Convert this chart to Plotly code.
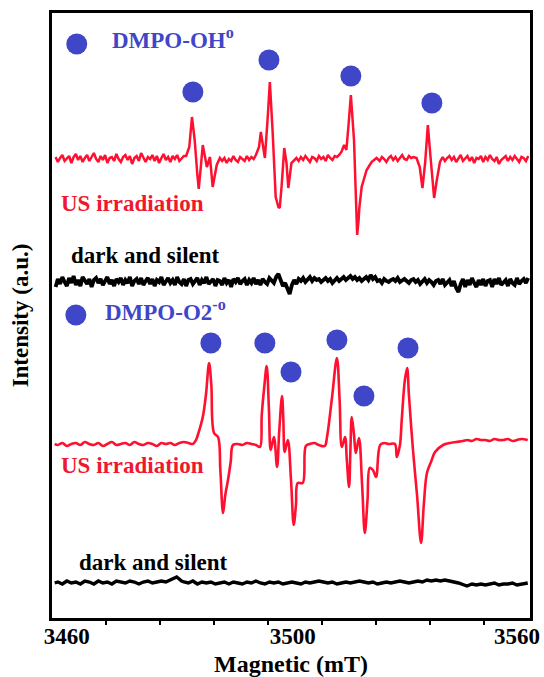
import plotly.graph_objects as go

# ---------------- EPR spectra (field in mT, signal in a.u. relative to each baseline) ----------------
# DMPO-OH adduct, US irradiation
B_OH = [
    3457.5, 3458.0, 3458.5, 3459.0, 3459.5, 3460.0, 3460.5, 3461.0, 3461.5, 3462.0,
    3462.5, 3463.0, 3463.5, 3464.0, 3464.5, 3465.0, 3465.5, 3466.0, 3466.5, 3467.0,
    3467.5, 3468.0, 3468.5, 3469.0, 3469.5, 3470.0, 3470.5, 3471.0, 3471.5, 3472.0,
    3472.5, 3473.0, 3473.5, 3474.0, 3474.5, 3475.0, 3475.5, 3476.0, 3476.5, 3477.0,
    3477.5, 3478.0, 3478.5, 3479.0, 3479.5, 3480.0, 3480.5, 3481.0, 3481.5, 3482.0,
    3482.5, 3483.0, 3483.5, 3484.0, 3484.5, 3485.0, 3485.5, 3486.0,
    3486.5, 3487.2, 3487.8, 3488.4, 3489.0, 3489.3, 3489.7, 3490.2, 3490.7, 3491.1,
    3491.8, 3492.4, 3493.3, 3494.0,
    3494.5, 3495.0, 3495.5, 3496.0, 3496.5, 3497.0, 3497.5, 3498.0, 3498.5, 3499.0,
    3499.5, 3500.0, 3500.5, 3501.0, 3501.5, 3502.0,
    3502.7, 3503.1, 3503.6, 3504.0, 3504.6, 3505.1, 3505.7, 3506.4, 3507.0, 3507.3,
    3507.7, 3508.3, 3508.8, 3509.2, 3509.9, 3511.0,
    3511.5, 3512.0, 3512.5, 3513.0, 3513.5, 3514.0, 3514.5, 3515.0, 3515.5, 3516.0,
    3516.5, 3517.0, 3517.5, 3518.0, 3518.5, 3519.0, 3519.5, 3520.0, 3520.5,
    3521.0, 3521.6, 3522.1, 3522.6, 3523.1, 3523.8, 3524.2, 3524.5, 3524.8, 3525.0,
    3525.5, 3526.6, 3527.7, 3528.8,
    3529.5, 3530.0, 3530.5, 3531.0, 3531.5, 3532.0, 3532.5, 3533.0, 3533.5, 3534.0,
    3534.5, 3535.0, 3535.5, 3536.0, 3536.5, 3537.0,
    3537.7, 3538.4, 3539.0, 3539.6, 3540.2, 3540.8, 3541.6, 3542.2, 3542.9,
    3543.5, 3544.0, 3544.5, 3545.0, 3545.5, 3546.0, 3546.5, 3547.0, 3547.5, 3548.0,
    3548.5, 3549.0, 3549.5, 3550.0, 3550.5, 3551.0, 3551.5, 3552.0, 3552.5, 3553.0,
    3553.5, 3554.0, 3554.5, 3555.0, 3555.5, 3556.0, 3556.5, 3557.0, 3557.5, 3558.0,
    3558.5, 3559.0, 3559.5, 3560.0, 3560.5, 3561.0, 3561.5, 3562.0, 3562.5]
S_OH = [
    2, -3, 1, 4, -2, 0, 3, -4, 2, 5,
    -1, 3, -3, 1, 4, -2, 2, 6, 0, -3,
    3, -1, 4, -4, 1, 2, -2, 5, 0, -3,
    2, 4, -1, 3, -5, 1, 3, -2, 6, 1,
    -3, 2, 0, 4, -2, 3, -4, 1, 5, -1,
    2, -3, 3, 0, 4, -2, 1, 3,
    3, 12, 42, 19, -16, -30, -11, 14, 2, -8,
    2, -28, -6, 1,
    -2, 1, -4, 0, -2, 3, -1, -3, 2, 0,
    -2, 3, -1, 2, 0, 4,
    12, 27, 10, 1, 40, 77, 29, -38, -48, -49,
    -28, 11, -4, -29, -4, 1,
    -2, 2, -1, 3, 0, -3, 2, 1, -2, 3,
    0, 2, -2, 4, 1, -1, 3, 2, 4,
    7, 14, 9, 35, 64, 19, -40, -76, -62, -48,
    -28, -11, -3, 1,
    -2, 2, 0, -3, 1, 3, -1, 2, -2, 1,
    4, 0, -1, 3, 1, 2,
    1, -8, -29, -4, 34, 2, -39, -21, -3,
    2, -2, 1, 3, -1, 2, -3, 0, 4, -2,
    1, 3, -2, 2, -4, 1, 0, 3, -3, 2,
    -1, 4, 0, -2, 2, -5, -1, 1, 3, -2,
    2, -1, 3, 0, -3, 2, 1, -2, 3]

# Dark and silent control for DMPO-OH (0.5 mT sweep points)
B_DARK1 = [
    3457.5, 3458.0, 3458.5, 3459.0, 3459.5, 3460.0, 3460.5, 3461.0, 3461.5, 3462.0,
    3462.5, 3463.0, 3463.5, 3464.0, 3464.5, 3465.0, 3465.5, 3466.0, 3466.5, 3467.0,
    3467.5, 3468.0, 3468.5, 3469.0, 3469.5, 3470.0, 3470.5, 3471.0, 3471.5, 3472.0,
    3472.5, 3473.0, 3473.5, 3474.0, 3474.5, 3475.0, 3475.5, 3476.0, 3476.5, 3477.0,
    3477.5, 3478.0, 3478.5, 3479.0, 3479.5, 3480.0, 3480.5, 3481.0, 3481.5, 3482.0,
    3482.5, 3483.0, 3483.5, 3484.0, 3484.5, 3485.0, 3485.5, 3486.0, 3486.5, 3487.0,
    3487.5, 3488.0, 3488.5, 3489.0, 3489.5, 3490.0, 3490.5, 3491.0, 3491.5, 3492.0,
    3492.5, 3493.0, 3493.5, 3494.0, 3494.5, 3495.0, 3495.5, 3496.0, 3496.5, 3497.0,
    3497.5, 3498.0, 3498.5, 3499.0, 3499.5, 3500.0, 3500.5, 3501.0, 3501.5, 3502.0,
    3502.5, 3503.0, 3503.5, 3504.0, 3504.5, 3505.0, 3505.5, 3506.0, 3506.5, 3507.0,
    3507.5, 3508.0, 3508.5, 3509.0, 3509.5, 3510.0, 3510.5, 3511.0, 3511.5, 3512.0,
    3512.5, 3513.0, 3513.5, 3514.0, 3514.5, 3515.0, 3515.5, 3516.0, 3516.5, 3517.0,
    3517.5, 3518.0, 3518.5, 3519.0, 3519.5, 3520.0, 3520.5, 3521.0, 3521.5, 3522.0,
    3522.5, 3523.0, 3523.5, 3524.0, 3524.5, 3525.0, 3525.5, 3526.0, 3526.5, 3527.0,
    3527.5, 3528.0, 3528.5, 3529.0, 3529.5, 3530.0, 3530.5, 3531.0, 3531.5, 3532.0,
    3532.5, 3533.0, 3533.5, 3534.0, 3534.5, 3535.0, 3535.5, 3536.0, 3536.5, 3537.0,
    3537.5, 3538.0, 3538.5, 3539.0, 3539.5, 3540.0, 3540.5, 3541.0, 3541.5, 3542.0,
    3542.5, 3543.0, 3543.5, 3544.0, 3544.5, 3545.0, 3545.5, 3546.0, 3546.5, 3547.0,
    3547.5, 3548.0, 3548.5, 3549.0, 3549.5, 3550.0, 3550.5, 3551.0, 3551.5, 3552.0,
    3552.5, 3553.0, 3553.5, 3554.0, 3554.5, 3555.0, 3555.5, 3556.0, 3556.5, 3557.0,
    3557.5, 3558.0, 3558.5, 3559.0, 3559.5, 3560.0, 3560.5, 3561.0, 3561.5, 3562.0,
    3562.5]
S_DARK1 = [
    -5, 3, -2, 5, 0, -4, 4, -1, 6, -3,
    2, -4, 5, 1, -2, 3, -5, 2, 4, -1,
    3, -3, 1, 5, -2, 2, -4, 3, 0, 4,
    -3, 2, -1, 5, -4, 1, 3, -2, 4, -3,
    1, 4, -2, 3, -4, 2, 0, 5, -3, 1,
    4, -1, 2, -3, 5, 0, -2, 3, -4, 2,
    3, -2, 1, 4, -3, 2, -1, 5, -2, 0,
    3, -4, 2, 1, -3, 4, -1, 2, -5, 3,
    0, 4, -2, 1, 3, -3, 2, -1, 4, -2,
    2, -3, 3, 0, -2, 4, 1, -1, 5, 8,
    2, -4, -1, -8, -12, -3, 2, -2, 3, 1,
    4, 0, 3, 5, 1, 4, 2, 3, 0, 2,
    4, 1, 3, -1, 2, 4, 1, 3, 5, 2,
    4, 6, 3, 5, 2, 4, 1, 3, 5, 2,
    7, 3, 5, 1, 2, -1, 3, 1, 0, 2,
    3, 1, 4, 0, 2, 3, 1, -1, 2, 3,
    0, 2, -2, 1, 3, -1, 2, 0, -3, 1,
    2, -2, 3, -3, 0, 2, -4, 1, -6, -10,
    -2, 3, -5, 2, -3, 4, -1, -5, 2, -3,
    3, -4, 1, 2, -5, 3, -2, 4, -3, 0,
    2, -4, 3, -1, -3, 4, -2, 1, 3, -1,
    4]

# DMPO-O2 adduct, US irradiation
B_O2 = [3457.3, 3458, 3459, 3460, 3461, 3462, 3463, 3464, 3465, 3466, 3467, 3468, 3469, 3470,
        3471, 3472, 3473, 3474, 3475, 3476, 3477, 3478, 3479, 3480, 3481, 3482, 3483, 3484,
        3485, 3486, 3487, 3488.0, 3488.7, 3489.1, 3490.2, 3490.9, 3491.6, 3492.1, 3492.7,
        3493.6, 3494.1, 3494.7, 3495.2, 3495.8, 3496.4, 3496.9, 3498, 3499, 3500, 3501, 3502,
        3502.9, 3503.3, 3503.9, 3504.4, 3504.9, 3505.3, 3506.0, 3506.7, 3507.2, 3507.8, 3508.1,
        3508.4, 3509.1, 3509.8, 3510.4, 3510.9, 3511.3, 3512.4, 3513.1, 3514, 3515, 3516,
        3517.3, 3517.8, 3518.9, 3520.0, 3520.6, 3521.1, 3521.8, 3522.2, 3522.7, 3523.0, 3523.3,
        3523.8, 3524.2, 3524.9, 3525.6, 3526.2, 3526.8, 3527.3, 3528.0, 3528.7, 3529.6, 3530.5,
        3531.5, 3532.9, 3533.3, 3534.0, 3534.4, 3535.1, 3535.6, 3536.0, 3536.9, 3537.8, 3538.7,
        3539.3, 3540.0, 3540.9, 3541.8, 3543.6, 3545.1, 3546.5, 3548, 3549, 3550, 3551, 3552,
        3553, 3554, 3555, 3556, 3557, 3558, 3559, 3560, 3561, 3562.4]
S_O2 = [0, -1, 1, -2, 0, 1, -1, 2, 0, -1, 1, -2, 0, 2,
        -1, 0, 1, -1, 2, 0, -1, 1, 0, -2, 1, 0, 1, -1,
        1, 2, 1, 0, 4, 9, 27, 49, 81, 59, 11,
        7, -26, -69, -51, -36, -18, -1, 0, -1, 1, 0, -1,
        -3, 29, 59, 78, 34, -6, 7, -23, 14, 48, 24,
        -8, 4, -36, -81, -61, -39, -39, -2, 0, 1, -1,
        -2, 7, 46, 86, 44, -3, 7, -16, -43, -6, 27,
        9, -9, 6, -41, -89, -56, -24, -26, -33, -1, 1,
        0, 0, -13, -1, 24, 64, 76, 49, -6, -51, -99,
        -61, -29, -18, -8, -1, 1, 2, 3, 4, 3, 5, 4,
        4, 3, 5, 4, 4, 5, 3, 4, 5, 4]

# Dark and silent control for DMPO-O2
B_DARK2 = [3457.3, 3458, 3459, 3460, 3461, 3462, 3463, 3464, 3465, 3466, 3467, 3468, 3469, 3470,
           3471, 3472, 3473, 3474, 3475, 3476, 3477, 3478, 3479, 3480, 3481, 3482, 3483, 3484.4,
           3485.5, 3486, 3487, 3488, 3489, 3490, 3491, 3492, 3493, 3494, 3495, 3496, 3497, 3498,
           3499, 3500, 3501, 3502, 3503, 3504, 3505, 3506, 3507, 3508, 3509, 3510, 3511, 3512,
           3513, 3514, 3515, 3516, 3517, 3518, 3519, 3520, 3521, 3522, 3523, 3524, 3525, 3526,
           3527, 3528, 3529, 3530, 3531, 3532, 3533, 3534, 3535, 3536, 3537, 3538, 3539, 3540,
           3541, 3542, 3543, 3544, 3545, 3546, 3547, 3548.9, 3550, 3551, 3552, 3553, 3554,
           3555, 3556, 3557, 3558, 3559, 3560, 3561, 3562.4]
S_DARK2 = [0, 1, -1, 2, 0, 1, -1, 2, 1, -1, 2, 0, 1, -1,
           2, 1, 0, 2, 1, -1, 1, 2, 0, 1, 2, 1, 3, 6,
           2, 1, 0, 2, -1, 1, 0, 1, -1, 0, 1, -1, 1, 0,
           -1, 1, 0, 2, 0, -1, 1, 0, 1, -1, 0, 1, 0, -1,
           1, 0, 1, 2, 1, 0, 1, -1, 0, 1, 0, 1, 2, 1,
           0, 1, -1, 0, 1, 0, 1, 2, 1, 0, 1, 2, 1, 3,
           2, 3, 2, 3, 2, 1, 0, -3, -1, -2, -1, -2, -1,
           0, -2, -1, -1, 0, -2, -1, 0, -1]

# Hyperfine lines marked on each spectrum (field, intensity)
DOT_OH_B = [3488.0, 3504.9, 3523.1, 3541.1]
DOT_OH_Y = [526, 558, 542, 515]
DOT_O2_B = [3492.0, 3504.0, 3509.8, 3520.0, 3526.0, 3535.8]
DOT_O2_Y = [275, 275, 246, 278, 222, 270]
LEGEND_DOT_B = [3462.2, 3462.0]
LEGEND_DOT_Y = [574, 303]

TICK_FIELDS = [3460, 3510.2, 3560]
TICK_LABELS = ["3460", "3500", "3560"]

# vertical stacking of the four spectra
OFFSET_OH = 459
OFFSET_DARK1 = 336
OFFSET_O2 = 174
OFFSET_DARK2 = 35

RED = "#ff1030"
BLUE = "#3f46c8"
FONT = "Liberation Serif"

fig = go.Figure()


def add_spectrum(b, s, offset, color, width, shape="linear"):
    fig.add_trace(go.Scatter(
        x=b, y=[v + offset for v in s], mode="lines",
        line=dict(color=color, width=width, shape=shape),
        hoverinfo="skip", showlegend=False))


add_spectrum(B_OH, S_OH, OFFSET_OH, RED, 2.5)
add_spectrum(B_DARK1, S_DARK1, OFFSET_DARK1, "#000000", 3.8)
add_spectrum(B_O2, S_O2, OFFSET_O2, RED, 2.6, "spline")
add_spectrum(B_DARK2, S_DARK2, OFFSET_DARK2, "#000000", 3.4)

fig.add_trace(go.Scatter(
    x=DOT_OH_B + DOT_O2_B + LEGEND_DOT_B, y=DOT_OH_Y + DOT_O2_Y + LEGEND_DOT_Y,
    mode="markers", marker=dict(color=BLUE, size=21, line=dict(width=0)),
    hoverinfo="skip", showlegend=False))

labels = [
    ("DMPO-OH<sup>o</sup>", 3469.6, 580, BLUE),
    ("DMPO-O2<sup>-o</sup>", 3468.0, 308, BLUE),
    ("US irradiation", 3458.3, 415, "#f0182e"),
    ("dark and silent", 3460.4, 363, "#000000"),
    ("US irradiation", 3458.2, 153, "#f0182e"),
    ("dark and silent", 3462.2, 56, "#000000"),
]
for text, x, y, col in labels:
    fig.add_annotation(x=x, y=y, xref="x", yref="y", text=text, showarrow=False,
                       xanchor="left", yanchor="middle",
                       font=dict(family=FONT, size=23, color=col, weight="bold"))

fig.update_layout(
    width=544, height=677,
    margin=dict(l=52, r=14, t=13, b=59, autoexpand=False),
    paper_bgcolor="white", plot_bgcolor="white",
    font=dict(family=FONT, color="black"),
    xaxis=dict(
        range=[3456.7, 3562.9], showgrid=False, zeroline=False, automargin=False,
        showline=True, linecolor="black", linewidth=3, mirror=True,
        tickmode="array", tickvals=TICK_FIELDS, ticktext=TICK_LABELS, ticks="",
        ticklabelstandoff=-5,
        tickfont=dict(family=FONT, size=23, color="black", weight="bold"),
        minor=dict(tickmode="linear", tick0=3468.67, dtick=12, ticks="outside",
                   ticklen=4, tickwidth=2, tickcolor="black", showgrid=False),
        title=dict(text="Magnetic (mT)", standoff=8,
                   font=dict(family=FONT, size=24, color="black", weight="bold")),
    ),
    yaxis=dict(
        range=[0, 605], showgrid=False, zeroline=False, automargin=False,
        showline=True, linecolor="black", linewidth=3, mirror=True,
        showticklabels=False, ticks="",
        title=dict(text="Intensity (a.u.)", standoff=14,
                   font=dict(family=FONT, size=23, color="black", weight="bold")),
    ),
)

fig.write_html("out.html")
